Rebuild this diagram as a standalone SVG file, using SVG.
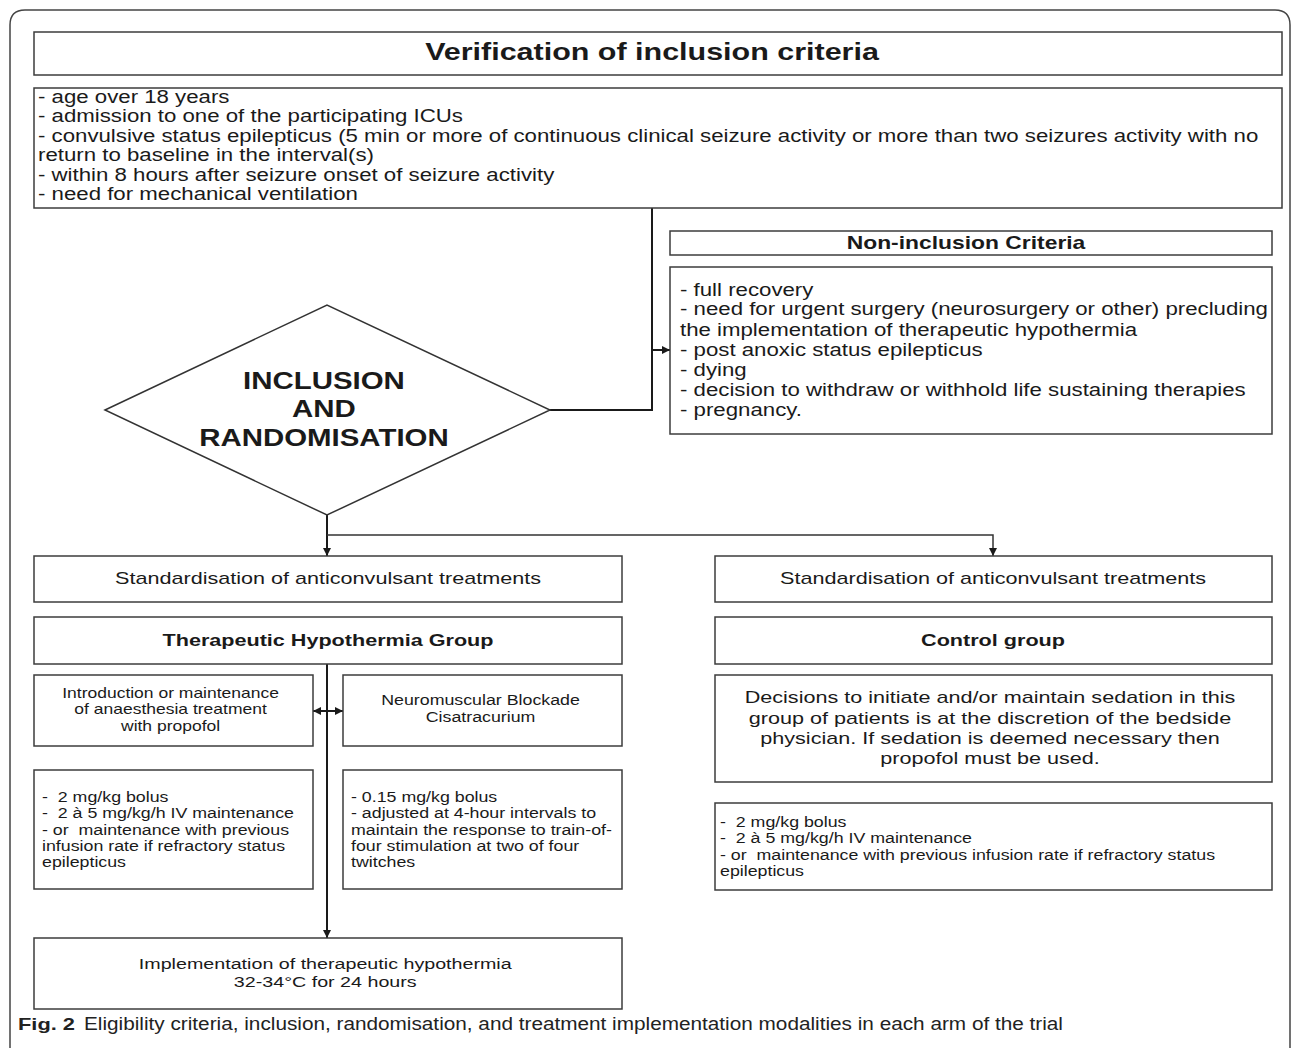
<svg xmlns="http://www.w3.org/2000/svg" width="1293" height="1048" viewBox="0 0 1293 1048">
<style>
.t{font-family:"Liberation Sans",Arial,Helvetica,sans-serif;fill:#1a1a1a;white-space:pre}
.b{font-weight:bold}
.box{fill:#fff;stroke:#3c3c3c;stroke-width:1.5}
.ln{fill:none;stroke:#1a1a1a;stroke-width:2}
.thin{fill:none;stroke:#333;stroke-width:1.5}
.frame{fill:#fff;stroke:#444;stroke-width:1.5}
.cap{font-family:"Liberation Sans",Arial,sans-serif;fill:#222}
</style>
<defs>
<marker id="ah" viewBox="0 0 10 10" refX="10" refY="5" markerWidth="10" markerHeight="8" markerUnits="userSpaceOnUse" orient="auto-start-reverse">
<path d="M0,0 L10,5 L0,10 z" fill="#1a1a1a"/>
</marker>
</defs>
<rect width="1293" height="1048" fill="#fff"/>
<path class="frame" d="M10,1060 V25 Q10,10 25,10 H1275 Q1290,10 1290,25 V1060"/>

<g id="connectors">
<path class="ln" d="M652,208 V410 H550"/>
<path class="ln" d="M652,350 H670" marker-end="url(#ah)"/>
<path class="ln" d="M327,515 V556" marker-end="url(#ah)"/>
<path class="thin" d="M327,535 H993 V556" marker-end="url(#ah)"/>
<path class="ln" d="M327,664 V938" marker-end="url(#ah)"/>
<path class="ln" d="M313,711 H343" marker-start="url(#ah)" marker-end="url(#ah)"/>
</g>

<g id="header">
<rect class="box" x="34" y="32" width="1248" height="43"/>
<text class="t b" font-size="24" text-anchor="middle" transform="translate(652,60) scale(1.27 1)">Verification of inclusion criteria</text>
</g>

<g id="inclusion-criteria">
<rect class="box" x="34" y="88" width="1248" height="120"/>
<text class="t" font-size="17.5" transform="translate(38,0) scale(1.27 1)">
<tspan x="0" y="103">- age over 18 years</tspan>
<tspan x="0" y="122.5">- admission to one of the participating ICUs</tspan>
<tspan x="0" y="142">- convulsive status epilepticus (5 min or more of continuous clinical seizure activity or more than two seizures activity with no</tspan>
<tspan x="0" y="161.5">return to baseline in the interval(s)</tspan>
<tspan x="0" y="181">- within 8 hours after seizure onset of seizure activity</tspan>
<tspan x="0" y="200.5">- need for mechanical ventilation</tspan>
</text>
</g>

<g id="non-inclusion-header">
<rect class="box" x="670" y="231" width="602" height="24"/>
<text class="t b" font-size="18" text-anchor="middle" transform="translate(966,249) scale(1.27 1)">Non-inclusion Criteria</text>
</g>

<g id="non-inclusion-criteria">
<rect class="box" x="670" y="267" width="602" height="167"/>
<text class="t" font-size="17.5" transform="translate(680,0) scale(1.27 1)">
<tspan x="0" y="296">- full recovery</tspan>
<tspan x="0" y="315">- need for urgent surgery (neurosurgery or other) precluding</tspan>
<tspan x="0" y="336">the implementation of therapeutic hypothermia</tspan>
<tspan x="0" y="356">- post anoxic status epilepticus</tspan>
<tspan x="0" y="376">- dying</tspan>
<tspan x="0" y="396">- decision to withdraw or withhold life sustaining therapies</tspan>
<tspan x="0" y="416">- pregnancy.</tspan>
</text>
</g>

<g id="inclusion-randomisation">
<polygon points="105,410 327,305 550,410 327,515" fill="#fff" stroke="#333" stroke-width="1.5"/>
<text class="t b" font-size="23" text-anchor="middle" transform="translate(328,0) scale(1.28 1)">
<tspan x="0" y="389">INCLUSION</tspan>
<tspan x="0" y="417">AND</tspan>
<tspan x="0" y="446">RANDOMISATION</tspan>
</text>
</g>

<g id="std-left">
<rect class="box" x="34" y="556" width="588" height="46"/>
<text class="t" font-size="17" text-anchor="middle" transform="translate(328,584) scale(1.27 1)">Standardisation of anticonvulsant treatments</text>
</g>

<g id="std-right">
<rect class="box" x="715" y="556" width="557" height="46"/>
<text class="t" font-size="17" text-anchor="middle" transform="translate(993,584) scale(1.27 1)">Standardisation of anticonvulsant treatments</text>
</g>

<g id="th-group">
<rect class="box" x="34" y="617" width="588" height="47"/>
<text class="t b" font-size="17" text-anchor="middle" transform="translate(328,646) scale(1.27 1)">Therapeutic Hypothermia Group</text>
</g>

<g id="control-group">
<rect class="box" x="715" y="617" width="557" height="47"/>
<text class="t b" font-size="17" text-anchor="middle" transform="translate(993,646) scale(1.27 1)">Control group</text>
</g>

<g id="anaesthesia">
<rect class="box" x="34" y="675" width="279" height="71"/>
<text class="t" font-size="14" text-anchor="middle" transform="translate(173,0) scale(1.25 1)">
<tspan x="0" y="698">Introduction or maintenance</tspan>
<tspan x="0" y="714">of anaesthesia treatment</tspan>
<tspan x="0" y="731">with propofol</tspan>
</text>
</g>

<g id="blockade">
<rect class="box" x="343" y="675" width="279" height="71"/>
<text class="t" font-size="14" text-anchor="middle" transform="translate(483,0) scale(1.27 1)">
<tspan x="0" y="705">Neuromuscular Blockade</tspan>
<tspan x="0" y="722">Cisatracurium</tspan>
</text>
</g>

<g id="propofol-dose">
<rect class="box" x="34" y="770" width="279" height="119"/>
<text class="t" font-size="14" transform="translate(42,0) scale(1.27 1)">
<tspan x="0" y="802">-  2 mg/kg bolus</tspan>
<tspan x="0" y="818">-  2 à 5 mg/kg/h IV maintenance</tspan>
<tspan x="0" y="835">- or  maintenance with previous</tspan>
<tspan x="0" y="851">infusion rate if refractory status</tspan>
<tspan x="0" y="867">epilepticus</tspan>
</text>
</g>

<g id="cisatracurium-dose">
<rect class="box" x="343" y="770" width="279" height="119"/>
<text class="t" font-size="14" transform="translate(351,0) scale(1.27 1)">
<tspan x="0" y="802">- 0.15 mg/kg bolus</tspan>
<tspan x="0" y="818">- adjusted at 4-hour intervals to</tspan>
<tspan x="0" y="835">maintain the response to train-of-</tspan>
<tspan x="0" y="851">four stimulation at two of four</tspan>
<tspan x="0" y="867">twitches</tspan>
</text>
</g>

<g id="hypothermia">
<rect class="box" x="34" y="938" width="588" height="71"/>
<text class="t" font-size="15.5" text-anchor="middle" transform="translate(328,0) scale(1.27 1)">
<tspan x="0" y="969">Implementation of therapeutic hypothermia</tspan>
<tspan x="0" y="987">32-34°C for 24 hours</tspan>
</text>
</g>

<g id="sedation">
<rect class="box" x="715" y="675" width="557" height="107"/>
<text class="t" font-size="17" text-anchor="middle" transform="translate(993,0) scale(1.27 1)">
<tspan x="0" y="703">Decisions to initiate and/or maintain sedation in this</tspan>
<tspan x="0" y="724">group of patients is at the discretion of the bedside</tspan>
<tspan x="0" y="744">physician. If sedation is deemed necessary then</tspan>
<tspan x="0" y="764">propofol must be used.</tspan>
</text>
</g>

<g id="control-dose">
<rect class="box" x="715" y="803" width="557" height="87"/>
<text class="t" font-size="14" transform="translate(720,0) scale(1.27 1)">
<tspan x="0" y="827">-  2 mg/kg bolus</tspan>
<tspan x="0" y="843">-  2 à 5 mg/kg/h IV maintenance</tspan>
<tspan x="0" y="860">- or  maintenance with previous infusion rate if refractory status</tspan>
<tspan x="0" y="876">epilepticus</tspan>
</text>
</g>

<g id="caption">
<text class="cap b" font-size="17" x="18" y="1030" textLength="57" lengthAdjust="spacingAndGlyphs">Fig. 2</text>
<text class="cap" font-size="17.5" x="84" y="1030" textLength="979" lengthAdjust="spacingAndGlyphs">Eligibility criteria, inclusion, randomisation, and treatment implementation modalities in each arm of the trial</text>
</g>
</svg>
